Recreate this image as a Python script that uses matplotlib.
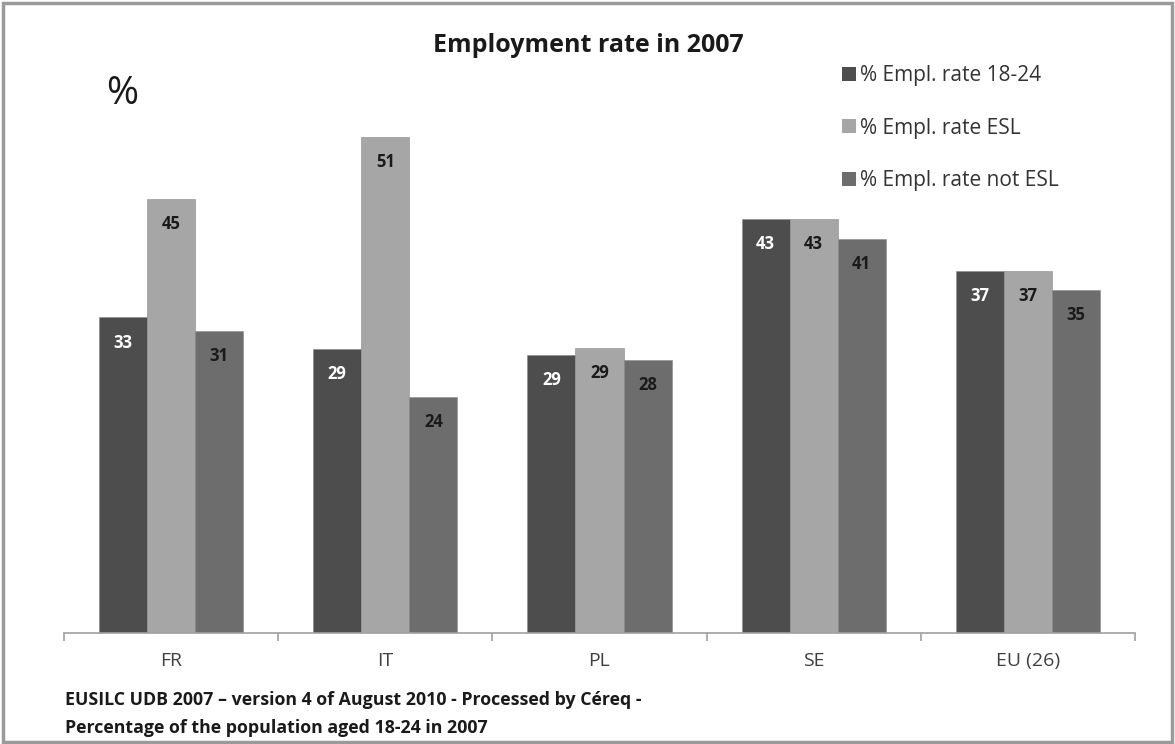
import matplotlib
matplotlib.use("Agg")
import matplotlib.pyplot as plt
import numpy as np
from matplotlib.patches import Rectangle, Patch

categories = ["FR", "IT", "PL", "SE", "EU (26)"]
series_names = ["% Empl. rate 18-24", "% Empl. rate ESL", "% Empl. rate not ESL"]
rate_18_24 = [32.6, 29.3, 28.7, 42.8, 37.4]
rate_esl = [44.8, 51.2, 29.4, 42.8, 37.4]
rate_not_esl = [31.2, 24.4, 28.2, 40.7, 35.4]
colors = ["#4d4d4d", "#a6a6a6", "#6d6d6d"]
label_colors = ["white", "#1a1a1a", "#1a1a1a"]

plt.rcParams['font.family'] = ['Open Sans', 'DejaVu Sans']

fig = plt.figure(figsize=(11.75, 7.44), dpi=100)
ax = fig.add_axes([64/1175, 1-633/744, (1135-64)/1175, (633-52)/744])

x = np.arange(len(categories))
w = 48/214
for i, vals in enumerate([rate_18_24, rate_esl, rate_not_esl]):
    xs = x + (i - 1) * w
    ax.bar(xs, vals, width=w, color=colors[i], edgecolor="#8a8a8a", linewidth=0.4,
           label=series_names[i], zorder=2)
    for xi, v in zip(xs, vals):
        ax.text(xi, v - 2.6, f"{round(v):d}", ha="center", va="center",
                fontsize=12, fontweight="bold", color=label_colors[i], zorder=3)

ax.set_xlim(-0.5, len(categories) - 0.5)
ax.set_ylim(0, 60)
ax.set_yticks([])
for s in ["top", "right", "left"]:
    ax.spines[s].set_visible(False)
ax.spines["bottom"].set_color("#a0a0a0")
ax.spines["bottom"].set_linewidth(1.2)
ax.set_xticks(np.arange(-0.5, len(categories)), minor=True)
ax.tick_params(axis="x", which="minor", length=6, color="#a0a0a0", width=1.2)
ax.tick_params(axis="x", which="major", length=0, pad=14, labelsize=14, labelcolor="#404040")
ax.set_xticks(x)
ax.set_xticklabels(categories)

fig.text(588/1175, 1-46/744, "Employment rate in 2007", ha="center", va="center",
         fontsize=18, fontweight="bold", color="#1a1a1a")
fig.text(122/1175, 1-94/744, "%", ha="center", va="center", fontsize=28, color="#1a1a1a")

handles = [Patch(facecolor=c, edgecolor="none") for c in colors]
leg = fig.legend(handles, series_names, loc="upper left",
                 bbox_to_anchor=(832/1175, 1-55/744), frameon=False,
                 fontsize=15, handlelength=0.65, handleheight=0.65,
                 handletextpad=0.2, labelspacing=1.5, borderpad=0)
for t in leg.get_texts():
    t.set_color("#333333")

fig.text(65/1175, 1-700/744, "EUSILC UDB 2007 – version 4 of August 2010 - Processed by Céreq -",
         ha="left", va="center", fontsize=12.8, fontweight="bold", color="#1a1a1a")
fig.text(65/1175, 1-728/744, "Percentage of the population aged 18-24 in 2007",
         ha="left", va="center", fontsize=12.8, fontweight="bold", color="#1a1a1a")

fig.patches.append(Rectangle((3/1175, 2/744), 1 - 6/1175, 1 - 5/744, transform=fig.transFigure,
                             fill=False, edgecolor="#9a9a9a", linewidth=2.5))

fig.savefig("out.png", dpi=100)
